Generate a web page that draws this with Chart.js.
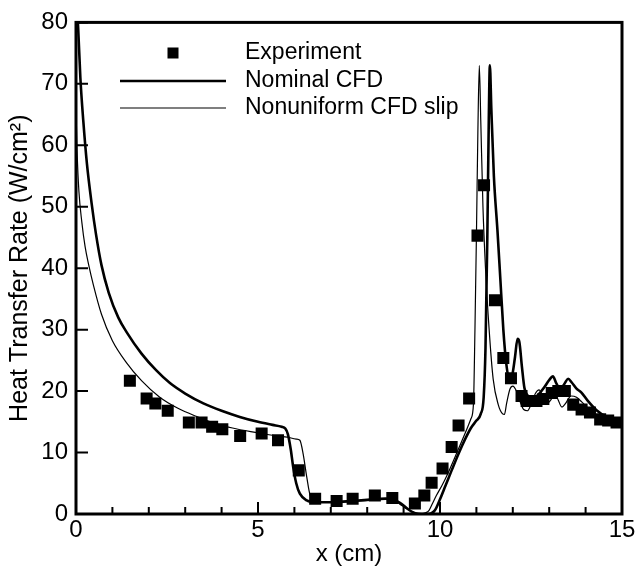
<!DOCTYPE html>
<html>
<head>
<meta charset="utf-8">
<script src="https://cdn.jsdelivr.net/npm/chart.js@4"></script>
<style>
  body { margin: 0; background: #fff; }
  canvas { display: block; }
</style>
</head>
<body>
<canvas id="chart" width="638" height="569"></canvas>
<script>
// experiment (squares)
const expX = [1.48, 1.94, 2.18, 2.52, 3.10, 3.45, 3.74, 4.02, 4.51, 5.10, 5.55, 6.12, 6.57, 7.16, 7.60, 8.21, 8.69, 9.31, 9.57, 9.77,
  10.07, 10.32, 10.51, 10.80, 11.03, 11.21, 11.51, 11.74, 11.95, 12.24, 12.38, 12.65, 12.84, 13.07, 13.25, 13.43, 13.66, 13.89,
  14.12, 14.40, 14.62, 14.85];
const expY = [21.7, 18.8, 18.0, 16.8, 14.9, 14.9, 14.2, 13.8, 12.7, 13.1, 12.0, 7.1, 2.5, 2.1, 2.5, 3.0, 2.6, 1.7, 3.0, 5.1,
  7.4, 10.9, 14.4, 18.8, 45.3, 53.5, 34.8, 25.4, 22.1, 19.2, 18.4, 18.4, 18.7, 19.7, 20.0, 20.0, 17.8, 17.0,
  16.5, 15.4, 15.2, 14.9];

// Nominal CFD (thick line)
const nomX = [0.02, 0.06, 0.12, 0.2, 0.3, 0.43, 0.55, 0.7, 0.9, 1.16, 1.39, 1.8, 2.2, 2.58, 3.0, 3.5, 4.0, 4.5, 5.0, 5.4, 5.65,
  5.75, 5.82, 5.9, 5.97, 6.05, 6.15, 6.34, 6.6, 7.0, 7.5, 8.0, 8.5, 8.7, 8.9, 9.1, 9.25, 9.4, 9.6, 9.75, 9.86,
  10.0, 10.15, 10.32, 10.5, 10.7, 10.85, 11.0, 11.12, 11.2, 11.25, 11.3, 11.34, 11.37, 11.41, 11.48, 11.58, 11.66, 11.74, 11.82, 11.9,
  11.98, 12.06, 12.13, 12.18, 12.25, 12.32, 12.42, 12.55, 12.7, 12.85, 13.0, 13.1, 13.2, 13.3, 13.42, 13.52, 13.62, 13.75, 13.88, 14.05,
  14.3, 14.6, 15.0];
const nomY = [83, 79, 71, 64, 57, 50.5, 45.5, 40.5, 36, 32, 29.6, 26.1, 23.4, 21.3, 19.6, 18.0, 16.8, 15.8, 15.0, 14.5, 14.2,
  13.9, 13.0, 10.5, 7.5, 5.0, 3.3, 2.2, 1.9, 1.9, 2.1, 2.3, 2.5, 2.4, 1.8, 0.9, 0.3, 0.05, 0, 0.1, 0.6,
  2.4, 4.6, 7.1, 9.7, 12.3, 14.0, 15.2, 16.3, 19, 27, 45, 64, 73, 66, 55, 46, 38, 30, 24.5, 22,
  22.5, 25.5, 28.5, 28, 24, 20.5, 19.2, 18.8, 19.4, 20.5, 21.8, 22.4, 21.2, 20.3, 21.2, 22, 21.4, 20.4, 19.8, 18.5,
  16.9, 15.7, 14.7];

// Nonuniform CFD slip (thin line)
const slipX = [0.0, 0.03, 0.08, 0.16, 0.25, 0.35, 0.48, 0.7, 1.0, 1.39, 1.8, 2.3, 2.8, 3.3, 3.8, 4.3, 4.8, 5.3, 5.8, 6.05, 6.15,
  6.24, 6.34, 6.43, 6.61, 7.0, 7.5, 8.0, 8.5, 8.7, 8.9, 9.1, 9.3, 9.45, 9.6, 9.7, 9.8, 9.9, 10.05, 10.2, 10.5,
  10.75, 10.85, 10.92, 10.96, 11.0, 11.04, 11.08, 11.12, 11.18, 11.25, 11.35, 11.46, 11.6, 11.72, 11.77, 11.83, 11.92, 12.0, 12.1, 12.2,
  12.3, 12.4, 12.5, 12.62, 12.72, 12.82, 12.93, 13.05, 13.15, 13.25, 13.35, 13.45, 13.6, 13.75, 13.9, 14.1, 14.3, 14.6, 15.0];
const slipY = [66, 59, 52.5, 47.5, 43.5, 40.5, 37.2, 32.5, 28.2, 24.6, 21.7, 19.0, 17.2, 15.9, 14.8, 14.0, 13.4, 12.9, 12.5, 12.2, 12.0,
  9.8, 6.0, 3.1, 2.0, 1.9, 2.0, 2.2, 2.4, 2.3, 1.6, 0.8, 0.2, 0.05, 0.2, 0.6, 1.8, 3.0, 4.6, 6.4, 10.5,
  14.0, 15.5, 18, 30, 45, 62, 73, 64, 50, 40, 30, 22, 17.8, 16.3, 16.2, 18, 20.3, 20.8, 20, 18.3,
  17, 16.8, 17.8, 19.6, 20.2, 19.2, 18, 18.6, 19.8, 18.5, 17.4, 18, 19.2, 19, 18.2, 17, 16.1, 15.2, 14.5];

const xTicks = [0, 5, 10, 15];
const yTicks = [0, 10, 20, 30, 40, 50, 60, 70, 80];
const legendLabels = ['Experiment', 'Nominal CFD', 'Nonuniform CFD slip'];

const FONT = 'Liberation Sans, Arial, Helvetica, sans-serif';
const toPoints = (xs, ys) => xs.map((x, i) => ({ x, y: ys[i] }));

// frame, inward ticks and legend drawn on top of the plot
const framePlugin = {
  id: 'frame',
  afterDatasetsDraw(chart) {
    const { ctx, chartArea: a, scales } = chart;
    ctx.save();
    ctx.strokeStyle = '#000';
    ctx.lineWidth = 2;
    ctx.beginPath();
    for (let v = 0; v <= 15; v++) {
      const px = scales.x.getPixelForValue(v);
      const len = v % 5 === 0 ? 12 : 7;
      ctx.moveTo(px, a.bottom);
      ctx.lineTo(px, a.bottom - len);
    }
    yTicks.forEach(v => {
      const py = scales.y.getPixelForValue(v);
      ctx.moveTo(a.left, py);
      ctx.lineTo(a.left + 12, py);
    });
    ctx.stroke();
    ctx.lineWidth = 3;
    ctx.strokeRect(a.left, a.top, a.right - a.left, a.bottom - a.top);

    // legend
    ctx.fillStyle = '#000';
    ctx.fillRect(173 - 5.5, 53 - 5.5, 11, 11);
    ctx.lineWidth = 2.6;
    ctx.beginPath(); ctx.moveTo(120, 81); ctx.lineTo(226, 81); ctx.stroke();
    ctx.lineWidth = 1.2;
    ctx.beginPath(); ctx.moveTo(120, 108); ctx.lineTo(226, 108); ctx.stroke();
    ctx.font = '23px ' + FONT;
    ctx.textBaseline = 'middle';
    ctx.textAlign = 'left';
    [53, 80.5, 108].forEach((y, i) => ctx.fillText(legendLabels[i], 245, y));
    ctx.restore();
  }
};

new Chart(document.getElementById('chart'), {
  type: 'scatter',
  data: {
    datasets: [
      {
        label: legendLabels[0],
        data: toPoints(expX, expY),
        pointStyle: 'rect',
        pointRadius: 8.5,
        backgroundColor: '#000',
        borderWidth: 0,
        showLine: false
      },
      {
        label: legendLabels[1],
        data: toPoints(nomX, nomY),
        showLine: true,
        borderColor: '#000',
        borderWidth: 2.6,
        pointRadius: 0,
        cubicInterpolationMode: 'monotone'
      },
      {
        label: legendLabels[2],
        data: toPoints(slipX, slipY),
        showLine: true,
        borderColor: '#000',
        borderWidth: 1.2,
        pointRadius: 0,
        cubicInterpolationMode: 'monotone'
      }
    ]
  },
  options: {
    responsive: false,
    animation: false,
    layout: { padding: { top: 18, right: 16, left: 0, bottom: 0 } },
    plugins: { legend: { display: false }, tooltip: { enabled: false } },
    scales: {
      x: {
        type: 'linear', min: 0, max: 15,
        afterBuildTicks: s => { s.ticks = xTicks.map(value => ({ value })); },
        afterFit: s => { s.height = 55; },
        grid: { display: false, drawTicks: false },
        border: { display: false },
        ticks: { color: '#000', font: { family: FONT, size: 24 }, padding: 2, maxRotation: 0 },
        title: { display: true, text: 'x (cm)', color: '#000', font: { family: FONT, size: 24 }, padding: { top: 0, bottom: 0 } }
      },
      y: {
        type: 'linear', min: 0, max: 80,
        afterBuildTicks: s => { s.ticks = yTicks.map(value => ({ value })); },
        afterFit: s => { s.width = 76; },
        grid: { display: false, drawTicks: false },
        border: { display: false },
        ticks: { color: '#000', font: { family: FONT, size: 24 }, padding: 8 },
        title: { display: true, text: 'Heat Transfer Rate (W/cm²)', color: '#000', font: { family: FONT, size: 25 }, padding: { top: 5, bottom: 0 } }
      }
    }
  },
  plugins: [framePlugin]
});
</script>
</body>
</html>
